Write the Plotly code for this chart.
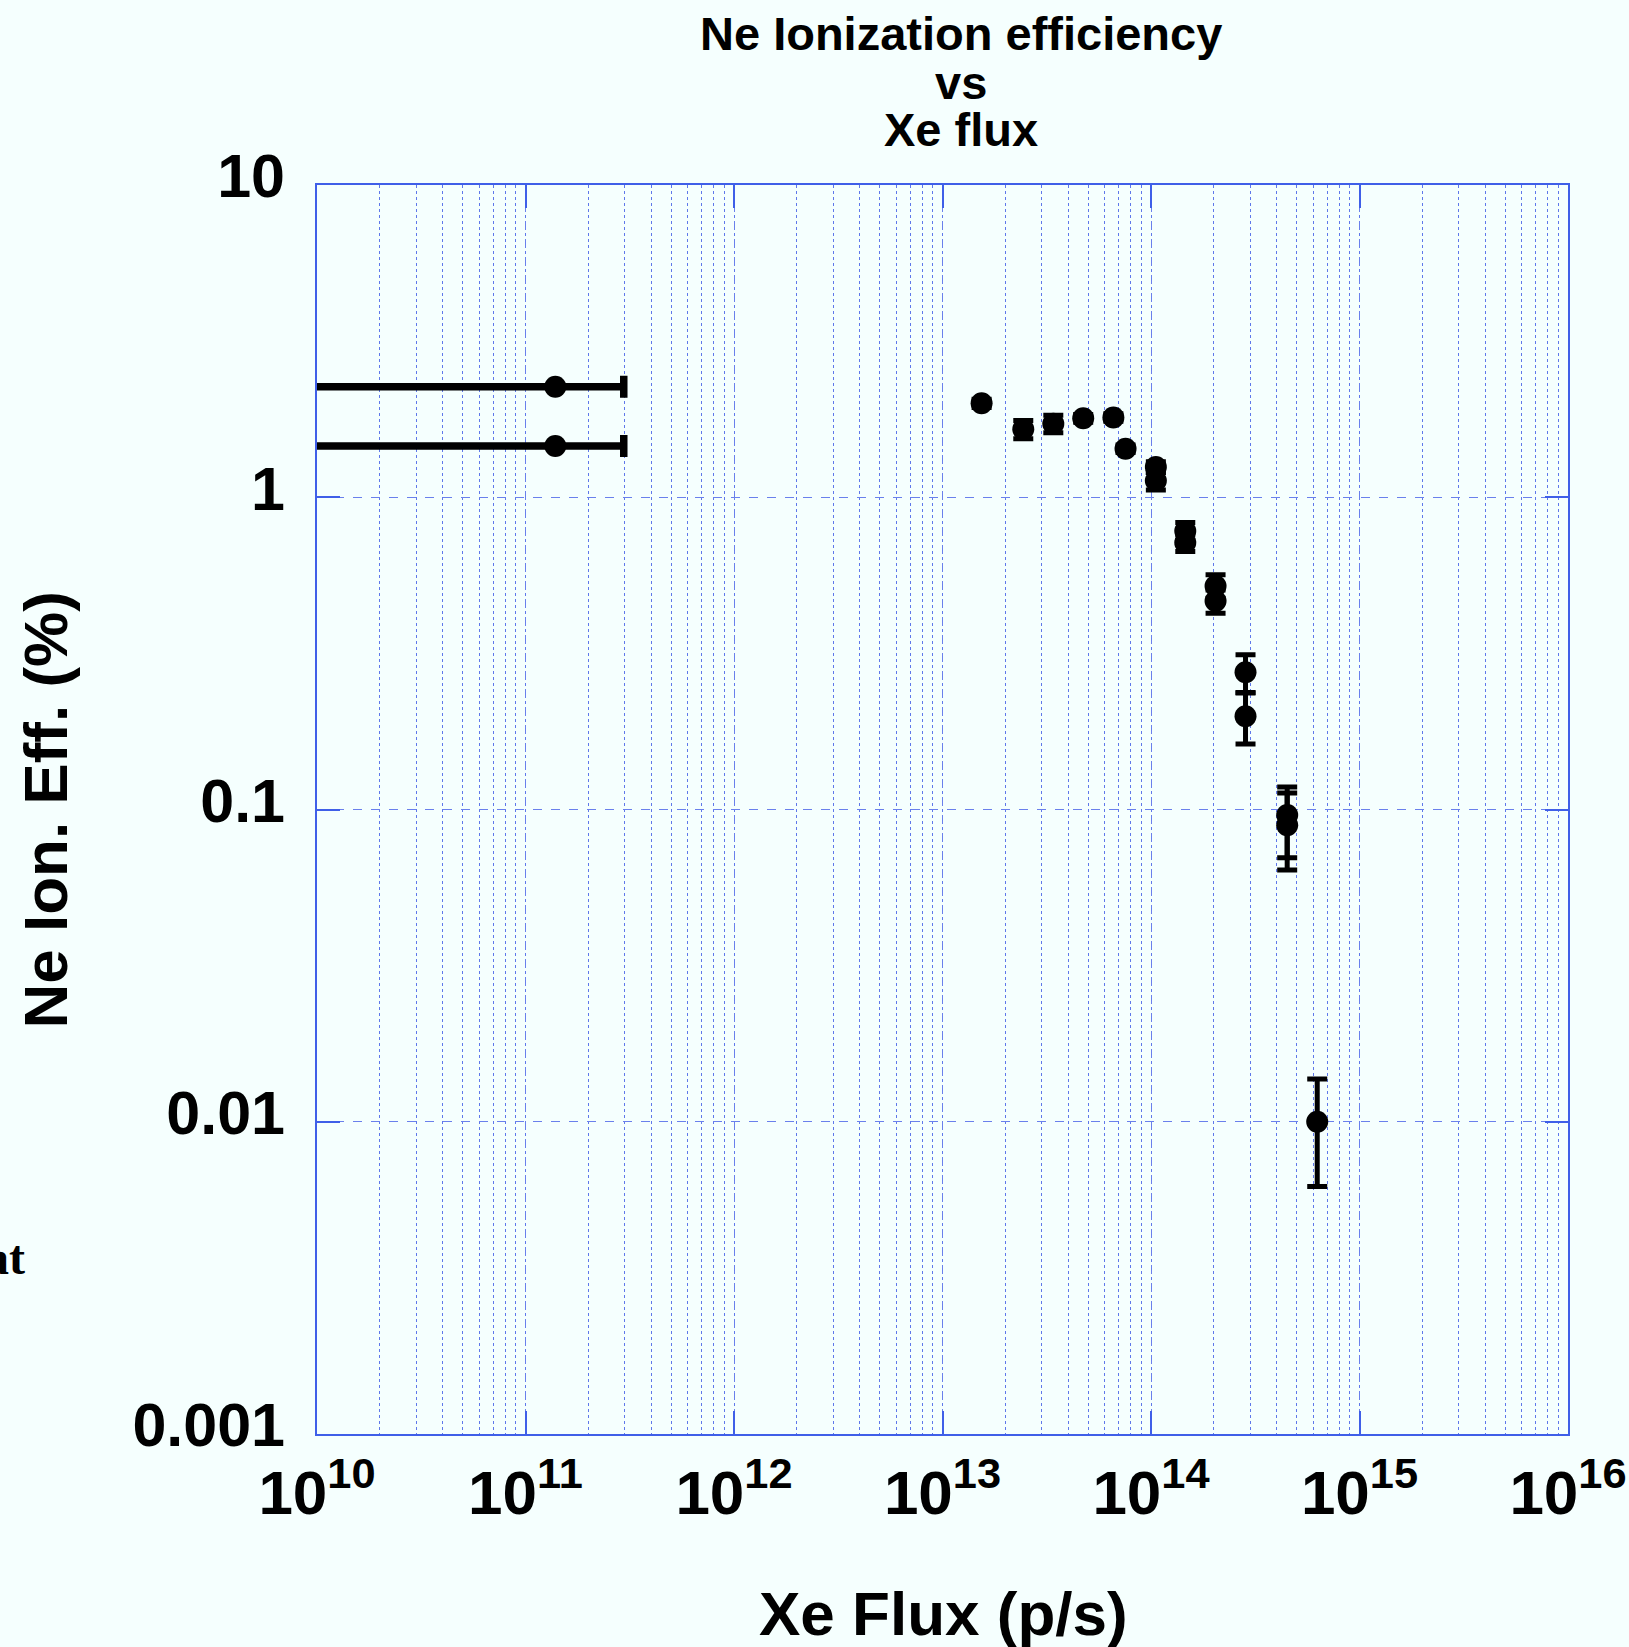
import plotly.graph_objects as go

# ---- data ----
# upper-limit style points (horizontal error bars)
lim_flux = [1.39e11, 1.39e11]
lim_eff = [2.26, 1.46]
lim_err_plus = [1.57e11, 1.57e11]
lim_err_minus = [1.30e11, 1.30e11]

# measured points
flux = [1.54e13, 2.44e13, 3.40e13, 4.73e13, 6.60e13, 7.55e13,
        1.055e14, 1.055e14, 1.46e14, 1.46e14, 2.04e14, 2.04e14,
        2.84e14, 2.84e14, 4.50e14, 4.50e14, 6.27e14]
eff = [2.00, 1.65, 1.72, 1.79, 1.80, 1.43,
       1.25, 1.13, 0.78, 0.715, 0.52, 0.465,
       0.275, 0.199, 0.096, 0.089, 0.0100]
err_plus = [0.06, 0.11, 0.11, 0.05, 0.05, 0.04,
            0.05, 0.07, 0.05, 0.045, 0.045, 0.04,
            0.038, 0.037, 0.022, 0.024, 0.0037]
err_minus = [0.06, 0.11, 0.11, 0.05, 0.05, 0.04,
             0.05, 0.075, 0.05, 0.045, 0.045, 0.04,
             0.038, 0.037, 0.032, 0.019, 0.0038]

x_tickvals = [1e10, 1e11, 1e12, 1e13, 1e14, 1e15, 1e16]
x_ticktext = ["10<sup>10</sup>", "10<sup>11</sup>", "10<sup>12</sup>", "10<sup>13</sup>",
              "10<sup>14</sup>", "10<sup>15</sup>", "10<sup>16</sup>"]
y_tickvals = [0.001, 0.01, 0.1, 1, 10]
y_ticktext = ["0.001", "0.01", "0.1", "1", "10"]

title_lines = ["Ne Ionization efficiency", "vs", "Xe flux"]
x_title = "Xe Flux (p/s)"
y_title = "Ne Ion. Eff. (%)"

# ---- styles ----
BG = "#F5FFFE"
FRAME = "#3F5FE8"
GRID = "#6A80EC"
MINOR = "#5F78EA"
FONT = "Liberation Sans, Arial, sans-serif"

fig = go.Figure()

fig.add_trace(go.Scatter(
    x=lim_flux, y=lim_eff, mode="markers",
    marker=dict(color="black", size=22),
    error_x=dict(type="data", array=lim_err_plus, arrayminus=lim_err_minus,
                 color="black", thickness=7.5, width=11, symmetric=False),
    showlegend=False,
))

fig.add_trace(go.Scatter(
    x=flux, y=eff, mode="markers",
    marker=dict(color="black", size=22),
    error_y=dict(type="data", array=err_plus, arrayminus=err_minus,
                 color="black", thickness=5, width=10, symmetric=False),
    showlegend=False,
))

axis_common = dict(
    type="log",
    showline=True, linecolor=FRAME, linewidth=1.5, mirror="ticks",
    ticks="inside", ticklen=23, tickcolor=FRAME, tickwidth=1.5,
    showgrid=True, gridcolor=GRID, gridwidth=1, griddash="dash",
    zeroline=False,
)

fig.update_xaxes(
    **axis_common,
    range=[10, 16],
    tickvals=x_tickvals, ticktext=x_ticktext,
    tickfont=dict(family=FONT, size=62, color="black", weight="bold"),
    ticklabelstandoff=4,
    minor=dict(dtick="D1", showgrid=True, gridcolor=MINOR, gridwidth=1, griddash="dot", ticks=""),
)
fig.update_yaxes(
    **axis_common,
    range=[-3, 1],
    tickvals=y_tickvals, ticktext=y_ticktext,
    tickfont=dict(family=FONT, size=61, color="black", weight="bold"),
    ticklabelshift=-9,
    ticklabelstandoff=18,
)

annotations = []
for txt, yp in zip(title_lines, [1.1212, 1.0823, 1.0446]):
    annotations.append(dict(text=txt, xref="paper", yref="paper", x=0.5148, y=yp,
                            xanchor="center", yanchor="middle", showarrow=False,
                            font=dict(family=FONT, size=47, color="black", weight="bold")))
annotations.append(dict(text=x_title, xref="paper", yref="paper", x=0.501, y=-0.144,
                        xanchor="center", yanchor="middle", showarrow=False,
                        font=dict(family=FONT, size=62, color="black", weight="bold")))
annotations.append(dict(text=y_title, xref="paper", yref="paper", x=-0.217, y=0.4996,
                        xanchor="center", yanchor="middle", showarrow=False, textangle=-90,
                        font=dict(family=FONT, size=62, color="black", weight="bold")))
annotations.append(dict(text="at", xref="paper", yref="paper", x=(27 - 317) / 1251,
                        y=(1434 - 1257) / 1249, xanchor="right", yanchor="middle", showarrow=False,
                        font=dict(family="Liberation Serif, Times New Roman, serif", size=48,
                                  color="black", weight="bold")))

fig.update_layout(
    width=1629, height=1647,
    margin=dict(l=317, r=61, t=185, b=213, autoexpand=False),
    paper_bgcolor=BG, plot_bgcolor=BG,
    annotations=annotations,
    showlegend=False,
)

fig.write_html("out.html",
               config={"displayModeBar": False},
               post_script="document.body.style.margin='0px';document.body.style.background='" + BG + "';")
